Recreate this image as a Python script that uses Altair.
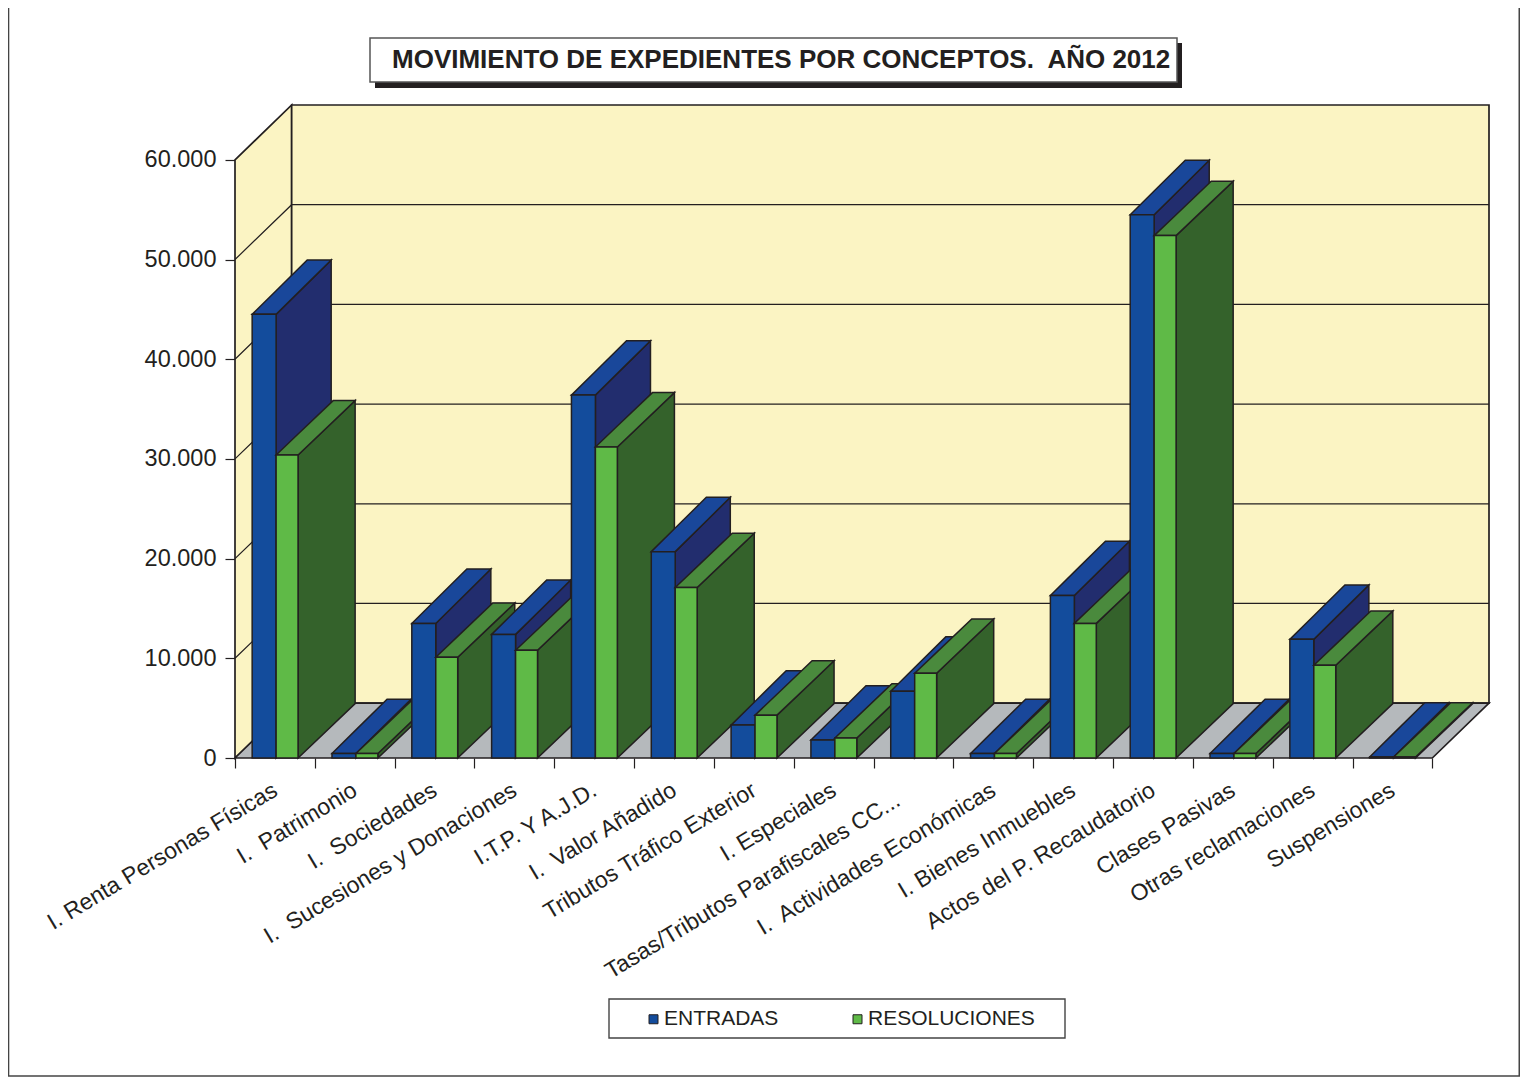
import altair as alt
import pandas as pd

NB = "\u00a0"
CATEGORIES = ["I. Renta Personas Físicas", f"I.{NB} Patrimonio", f"I.{NB} Sociedades", f"I.{NB} Sucesiones y Donaciones",
              "I.T.P. Y A.J.D.", f"I.{NB} Valor Añadido", "Tributos Tráfico Exterior", "I. Especiales",
              "Tasas/Tributos Parafiscales CC...", f"I.{NB} Actividades Económicas", "I. Bienes Inmuebles",
              "Actos del P. Recaudatorio", "Clases Pasivas", "Otras reclamaciones", "Suspensiones"]
ENTRADAS = [44500, 450, 13500, 12400, 36400, 20700, 3300, 1800, 6700, 450, 16300, 54500, 450, 11900, 100]
RESOLUCIONES = [30400, 450, 10100, 10800, 31200, 17100, 4300, 2000, 8500, 450, 13500, 52400, 450, 9300, 100]
TICKS = [0, 10000, 20000, 30000, 40000, 50000, 60000]

INK = "#231f20"
FACES = {"ENTRADAS": "#134c9c", "RESOLUCIONES": "#5fba47",
         "ENTRADAS top": "#19479a", "ENTRADAS side": "#222d6e",
         "RESOLUCIONES top": "#4a8a3d", "RESOLUCIONES side": "#34622b",
         "wall": "#fbf4c3", "floor": "#b5b9bc"}

N = len(CATEGORIES)
DX, DV = 0.71, 5500        # depth of the 3D projection of the box: in slots and in value units
TOPV = TICKS[-1] + DV
OFFSET, WB, WG = 0.215, 0.30, 0.275
DEPTH = {"ENTRADAS": (0.69, 5450), "RESOLUCIONES": (0.715, 5450)}

rows, pid = [], 0
def poly(face, pts):
    global pid
    pid += 1
    for x, y, y2 in pts:
        rows.append(dict(id=pid, face=face, x=x, y=y, y2=y2))

def flat(face, x0, w, v, dx, dv):
    """A horizontal face receding into depth, from value v."""
    k = dv / dx
    if w < dx:
        poly(face, [(x0, v, v), (x0 + w, v + k * w, v), (x0 + dx, v + dv, v + k * (dx - w)),
                    (x0 + w + dx, v + dv, v + dv)])
    else:
        poly(face, [(x0, v, v), (x0 + dx, v + dv, v), (x0 + w, v + dv, v),
                    (x0 + w + dx, v + dv, v + dv)])

def bar(name, x0, w, v):
    dx, dv = DEPTH[name]
    poly(name + " side", [(x0 + w, v, 0), (x0 + w + dx, v + dv, dv)])
    flat(name + " top", x0, w, v, dx, dv)
    poly(name, [(x0, v, 0), (x0 + w, v, 0)])

poly("wall", [(0, TICKS[-1], 0), (DX, TOPV, DV)])
poly("wall", [(DX, TOPV, DV), (N + DX, TOPV, DV)])
flat("floor", 0, N, 0, DX, DV)
walls = pd.DataFrame(rows)

rows, pid = [], 100
for i in range(N):
    x0 = i + OFFSET
    bar("ENTRADAS", x0, WB, ENTRADAS[i])
    bar("RESOLUCIONES", x0 + WB, WG, RESOLUCIONES[i])
bars = pd.DataFrame(rows)

grid = pd.DataFrame([dict(t=t, x=x, y=y) for t in TICKS[1:] for x, y in
                     [(0, t), (DX, t + DV), (N + DX, t + DV)] if t < TICKS[-1]])

x_scale = alt.Scale(domain=[0, N + DX], range=[0, 1254], nice=False, zero=False)
y_scale = alt.Scale(domain=[0, TOPV], range=[653, 0], nice=False, zero=False)
color = alt.Color("face:N", title=None,
    scale=alt.Scale(domain=list(FACES), range=list(FACES.values())),
    legend=alt.Legend(values=["ENTRADAS", "RESOLUCIONES"], orient="none", legendX=408, legendY=903.5,
                      direction="horizontal", columns=2, columnPadding=68, symbolType="square",
                      symbolSize=81, symbolStrokeColor=INK, symbolStrokeWidth=1,
                      labelFont="Liberation Sans", labelFontSize=21, labelColor=INK, labelOffset=0,
                      padding=0, labelLimit=300))

TASAS_POS = 8.3   # the long ninth label sits further along its slant than the others
x_ticks = [TASAS_POS if k == 17 else k / 2 for k in range(2 * N + 1)]
label_list = "[" + ",".join("'" + c + "'" for c in CATEGORIES) + "]"
x_enc = alt.X("x:Q", scale=x_scale, title=None,
    axis=alt.Axis(values=x_ticks, grid=False, domain=False, tickSize=10, tickColor=INK, tickWidth=1.2,
                  tickOpacity={"condition": {"test": "datum.value % 1 == 0", "value": 1}, "value": 0},
                  labelExpr=f"datum.value % 1 == 0 ? '' : {label_list}[floor(datum.value)]",
                  labelAngle=-31, labelAlign="right", labelBaseline="middle",
                  labelPadding={"condition": {"test": f"datum.value == {TASAS_POS}", "value": 30}, "value": 20},
                  labelFont="Liberation Sans", labelFontSize=23, labelColor=INK,
                  labelOverlap=False, labelBound=False, labelFlush=False, labelLimit=500))
y_enc = alt.Y("y:Q", scale=y_scale, title=None, stack=None,
    axis=alt.Axis(values=TICKS, grid=False, domain=False, tickSize=10, tickColor=INK, tickWidth=1.2,
                  labelExpr="replace(format(datum.value, ','), ',', '.')", labelPadding=9,
                  labelFont="Liberation Sans", labelFontSize=23.5, labelColor=INK))

def faces(df, sw):
    return alt.Chart(df).mark_area(stroke=INK, strokeWidth=sw, interpolate="linear", opacity=1).encode(
        x=x_enc, y=y_enc, y2="y2:Q", color=color, detail="id:N")

gridlines = alt.Chart(grid).mark_line(color=INK, strokeWidth=1.2).encode(x=x_enc, y=y_enc, detail="t:N")

def box(x, x2, y, y2, **kw):
    return alt.Chart(pd.DataFrame({"a": [0]})).mark_rect(**kw).encode(
        x=alt.value(x), x2=alt.value(x2), y=alt.value(y), y2=alt.value(y2))

def rule(x, x2, y, y2):
    return alt.Chart(pd.DataFrame({"a": [0]})).mark_rule(color="#444444", strokeWidth=1.6).encode(
        x=alt.value(x), x2=alt.value(x2), y=alt.value(y), y2=alt.value(y2))

chart = alt.layer(
    rule(-226.5, -226.5, -97, 971), rule(1284.3, 1284.3, -97, 971), rule(-227, 1285, 971, 971),
    box(140, 947, -62, -17, fill=INK),
    box(135, 942, -67, -23, fill="white", stroke="#555555", strokeWidth=1.5),
    box(374, 830, 894, 933, fill="white", stroke="#444444", strokeWidth=1.4),
    faces(walls, 1.7), gridlines, faces(bars, 1.5),
).properties(
    width=1254, height=653,
    title=alt.TitleParams(f"MOVIMIENTO DE EXPEDIENTES POR CONCEPTOS.{NB} AÑO 2012", anchor="start", frame="group",
                          align="left", dx=157, offset=-66, font="Liberation Sans", fontSize=26,
                          fontWeight="bold", color=INK),
    padding={"left": 227, "top": 97, "right": 31, "bottom": 319},
    autosize=alt.AutoSizeParams(type="none"),
    background="white",
).configure_view(stroke=None)

chart.save("out.html", embed_options={"renderer": "svg", "actions": False})
